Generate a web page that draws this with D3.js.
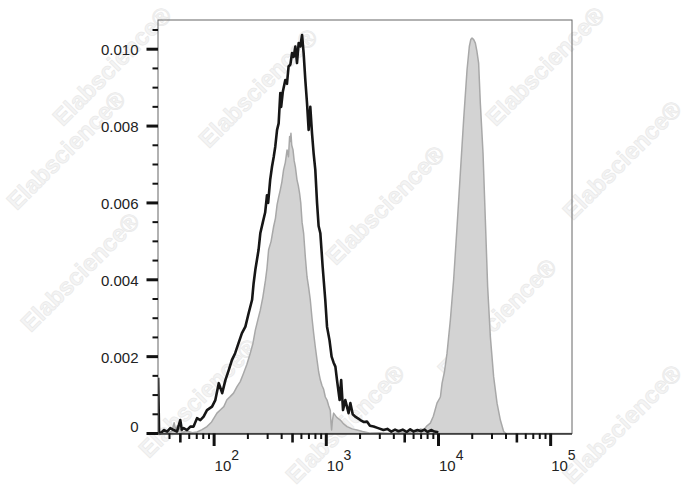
<!DOCTYPE html>
<html><head><meta charset="utf-8">
<script src="https://cdn.jsdelivr.net/npm/d3@7"></script>
<style>html,body{margin:0;padding:0;background:#fff;}svg{display:block;font-family:"Liberation Sans",Arial,sans-serif;}</style>
</head><body>
<svg id="chart" width="688" height="490"></svg>
<script>
// ---- data (x: fluorescence intensity, y: density in thousandths) ----
const blackX = [31.7,32.3,33.2,35.6,38.1,40.7,43.6,46.7,49.9,51.5,53.5,57.3,61.4,65.6,70.4,75.3,80.6,86.4,95.8,102.5,110,118,126,135,144,154,165,177,190,203,218,225,233,249,258,272,285,296,303,316,328,340,351,364,376,389,396,410,431,446,461,478,495,512,530,548,567,587,608,628,650,673,696,720,746,771,798,827,854,885,928,979,1015,1068,1115,1160,1205,1246,1315,1357,1410,1477,1580,1638,1720,1810,1900,2011,2150,2305,2450,2640,2900,3230,3500,3800,4100,4400,4800,5200,5600,6000,6500,7000,7500,8000,8600,9200,9970];
const blackY = [1.45,0.03,0.0,0.09,0.05,0.14,0.09,0.05,0.35,0.10,0.14,0.09,0.18,0.18,0.40,0.35,0.44,0.61,0.70,0.87,1.31,1.05,1.39,1.65,1.91,2.09,2.35,2.61,2.78,3.13,3.48,3.91,4.26,4.78,5.21,5.5,5.75,6.2,6.0,6.6,6.94,7.2,7.47,7.9,8.07,8.86,8.5,8.9,9.2,9.1,9.55,9.6,9.9,9.8,10.07,9.64,10.16,10.07,10.37,9.9,9.2,8.6,7.9,8.5,7.81,7.29,6.86,6.0,5.4,5.21,4.34,3.48,2.78,2.43,2.0,1.85,1.74,1.39,0.87,1.39,0.61,0.87,0.53,0.79,0.5,0.44,0.4,0.35,0.3,0.31,0.2,0.18,0.14,0.09,0.12,0.05,0.1,0.06,0.1,0.04,0.11,0.05,0.09,0.06,0.1,0.04,0.09,0.05,0.03];
const grayX = [31.8,38,42,44,45.5,47,52,58,64,70.4,78,86.4,95,106,114,122,130,139,149,160,171,183,196,210,222,233,245,258,272,287,296,306,322,339,352,364,376,389,402,416,431,447,460,471,478,484,492,505,517,530,548,563,578,592,608,628,650,673,696,720,746,771,798,827,855,885,915,947,980,1015,1050,1086,1100,1115,1135,1162,1240,1334,1430,1530,1700,1879,2100,2469,3000,3800,4600,5400,6000,6500,6892,7400,7900,8461,9000,9700,10400,10770,11300,11920,12760,13650,14640,15660,16760,17970,18840,19400,19920,20600,21320,22000,22800,23610,24960,26170,27440,29000,31020,33270,35610,38100,40000,155000];
const grayY = [0,0.02,0.05,0.28,0.08,0.2,0.03,0.06,0.02,0.04,0.10,0.18,0.30,0.53,0.62,0.70,0.88,0.96,1.05,1.22,1.35,1.57,1.80,2.09,2.35,2.69,2.95,3.21,3.55,3.99,4.30,4.78,5.0,5.38,5.6,5.95,6.15,6.34,6.55,6.86,7.05,7.38,7.2,7.73,7.6,7.81,7.5,7.38,7.1,6.94,6.6,6.45,6.25,6.0,5.5,5.21,4.6,4.08,3.8,3.475,3.0,2.61,2.25,1.91,1.6,1.39,1.25,1.15,0.95,0.87,0.72,0.6,0.3,0.09,0.35,0.53,0.42,0.35,0.25,0.18,0.12,0.09,0.05,0.01,0.02,0.0,0.03,0.02,0.08,0.04,0.12,0.1,0.2,0.27,0.45,0.79,0.95,1.31,1.6,2.09,2.95,4.0,5.38,6.77,8.16,9.46,10.07,10.25,10.29,10.25,10.16,9.95,9.64,8.6,7.29,5.56,3.82,2.52,1.48,0.79,0.35,0.05,0,0];
const yTickValues = [0, 0.002, 0.004, 0.006, 0.008, 0.010];
const yTickLabels = ["0", "0.002", "0.004", "0.006", "0.008", "0.010"];
const xDecades = [100, 1000, 10000, 100000];
const xDecadeExp = ["2", "3", "4", "5"];
const watermarkText = "Elabscience\u00AE";

// ---- layout ----
const svg = d3.select("#chart");
const L = 158, R = 572, T = 20, B = 433.5;
const x = d3.scaleLog().domain([31.6, 155000]).range([L, R]);
const y = d3.scaleLinear().domain([0, 0.01076]).range([B, T]);

// watermarks (kept fully inside the canvas)
const wm = [[258,88],[385,205],[497,318],[112,66],[66,150],[80,272],[198,398],[345,424],[545,66],[622,160],[622,424]];
svg.append("g").selectAll("text").data(wm).join("text")
  .attr("transform", d => `translate(${d[0]},${d[1]}) rotate(-45)`)
  .attr("text-anchor", "middle").attr("dy", "0.35em")
  .attr("font-size", 24).attr("font-weight", "bold")
  .attr("fill", "#f4f4f4").attr("stroke", "#e9e9e9").attr("stroke-width", 0.7)
  .text(watermarkText);

svg.append("defs").append("clipPath").attr("id", "clip")
  .append("rect").attr("x", L).attr("y", T).attr("width", R - L).attr("height", B - T + 1);

const gray = d3.zip(grayX, grayY.map(v => v / 1000));
const black = d3.zip(blackX, blackY.map(v => v / 1000));

const plot = svg.append("g").attr("clip-path", "url(#clip)");
plot.append("path").datum(gray)
  .attr("d", d3.area().x(d => x(d[0])).y0(y(0)).y1(d => y(d[1])))
  .attr("fill", "#d3d3d3").attr("stroke", "#a8a8a8").attr("stroke-width", 1.5).attr("stroke-linejoin", "round");
plot.append("path").datum(black)
  .attr("d", d3.line().x(d => x(d[0])).y(d => y(d[1])))
  .attr("fill", "none").attr("stroke", "#161616").attr("stroke-width", 2.6).attr("stroke-linejoin", "round");

// frame
svg.append("rect").attr("x", L).attr("y", T).attr("width", R - L).attr("height", B - T)
  .attr("fill", "none").attr("stroke", "#666").attr("stroke-width", 1);
svg.append("line").attr("x1", L).attr("x2", R).attr("y1", B + 0.5).attr("y2", B + 0.5)
  .attr("stroke", "#333").attr("stroke-width", 1.5);

// y ticks
const yMinor = d3.range(0, 0.01076, 0.0005).filter(v => Math.round(v * 2000) % 4 !== 0);
svg.append("g").selectAll("line").data(yMinor).join("line")
  .attr("x1", L - 5.5).attr("x2", L).attr("y1", d => y(d)).attr("y2", d => y(d))
  .attr("stroke", "#111").attr("stroke-width", 2);
svg.append("g").selectAll("line").data(yTickValues).join("line")
  .attr("x1", L - 11.5).attr("x2", L).attr("y1", d => y(d)).attr("y2", d => y(d))
  .attr("stroke", "#111").attr("stroke-width", 3);
svg.append("g").selectAll("text").data(yTickValues).join("text")
  .attr("x", 138.5).attr("y", (d) => y(d) + (d === 0 ? -1.5 : 6))
  .attr("text-anchor", "end").attr("font-size", 15).attr("fill", "#222")
  .text((d, i) => yTickLabels[i]);

// x ticks
const lead = v => Math.round(v / Math.pow(10, Math.floor(Math.log10(v) + 1e-9)));
const xMinor = [];
[10, 100, 1000, 10000].forEach(dec => { for (let k = 2; k <= 9; k++) { const v = k * dec; if (v >= 31.6 && v <= 155000) xMinor.push(v); } });
svg.append("g").selectAll("line").data(xMinor).join("line")
  .attr("x1", d => x(d)).attr("x2", d => x(d)).attr("y1", B).attr("y2", d => (lead(d) === 5 ? B + 9 : B + 5.5))
  .attr("stroke", "#111").attr("stroke-width", d => (lead(d) === 5 ? 2.6 : 2));
svg.append("g").selectAll("line").data(xDecades).join("line")
  .attr("x1", d => x(d)).attr("x2", d => x(d)).attr("y1", B).attr("y2", B + 12.5)
  .attr("stroke", "#111").attr("stroke-width", 3);
const xl = svg.append("g").selectAll("text").data(xDecades).join("text")
  .attr("x", d => x(d) + 0.5).attr("y", 470.7).attr("font-size", 15).attr("fill", "#222");
xl.append("tspan").text("10");
xl.append("tspan").attr("dy", -11).attr("font-size", 14).text((d, i) => xDecadeExp[i]);
</script>
</body></html>
